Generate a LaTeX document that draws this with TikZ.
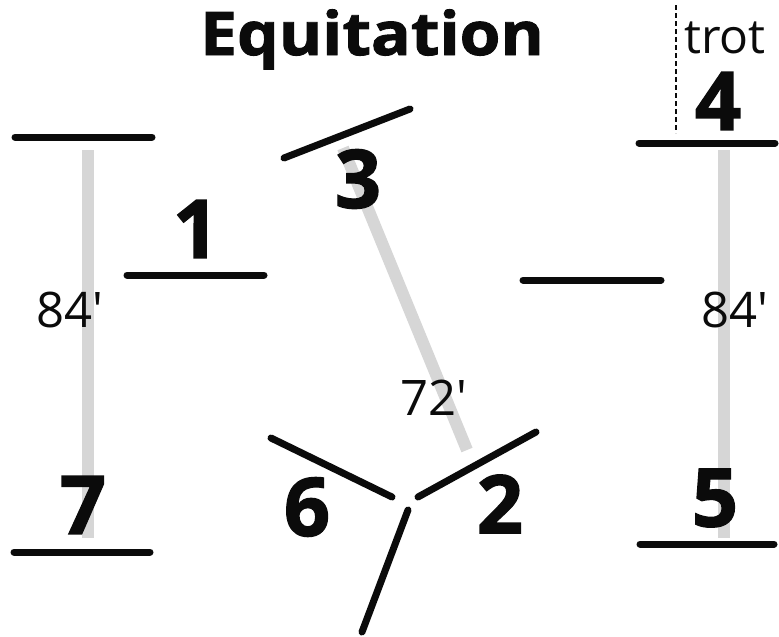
\documentclass[tikz,border=0pt]{standalone}
\usepackage{fontspec}
\setmainfont{Open Sans}
\newfontfamily\heavyfont{Open Sans}[BoldFeatures={FakeBold=1.6}]
\usetikzlibrary{positioning}
\definecolor{ink}{HTML}{0B0B0B}
\definecolor{track}{HTML}{D6D6D6}

\begin{document}
\begin{tikzpicture}[
  x=1pt,y=-1pt,
  bar/.style={draw=ink,line width=7pt,line cap=round},
  trk/.style={draw=track,line width=12pt},
  num/.style={font=\heavyfont\bfseries\fontsize{81}{81}\selectfont,
              inner sep=0pt,text=ink},
  dist/.style={font=\fontsize{49}{49}\selectfont,inner sep=0pt,text=ink},
]
\useasboundingbox (0,0) rectangle (779,637);

% ---------------------------------------------------------------- tracks
\coordinate (l1) at (88,150);  \coordinate (l2) at (88,538);
\coordinate (r1) at (724,150); \coordinate (r2) at (724,538);
\coordinate (m1) at (343,148); \coordinate (m2) at (467,450);
\foreach \i/\j in {l1/l2,r1/r2,m1/m2} \draw[trk] (\i) -- (\j);

% ---------------------------------------------------------------- labels
\node[font=\heavyfont\bfseries\fontsize{60}{60}\selectfont,anchor=base,
      inner sep=0pt,text=ink,xscale=1.1,transform shape] (title) at (372,55)
  {Equitation};

\node[num] (n1) at (196,229) {1};
\node[num] (n2) at (500,504) {2};
\node[num] (n3) at (358,179) {3};
\node[num] (n4) at (718,101) {4};
\node[num] (n5) at (715,498) {5};
\node[num] (n6) at (307,507) {6};
\node[num] (n7) at (83,505)  {7};

\node[dist] (dl) at (70,310)  {84\textquotesingle};
\node[dist] (dr) at (735,310) {84\textquotesingle};
\node[dist] (dm) at (434,398) {72\textquotesingle};

% trot marker
\coordinate (t1) at (676,5); \coordinate (t2) at (676,133);
\draw[ink,line width=1.8pt,dash pattern=on 5pt off 3pt] (t1) -- (t2);
\node[font=\fontsize{48}{48}\selectfont,anchor=base west,inner sep=0pt,
      text=ink] (trot) at (684,53) {trot};

% ---------------------------------------------------------------- jumps
\foreach \xa/\ya/\xb/\yb in {15/137/152/137, 127/275/264/275, 284/158/410/109,
                             523/280/661/280, 639/143/775/143, 14/552/150/552,
                             640/544/774/544, 271/438/392/497, 418/497/536/432,
                             408/510/362/632}
  \draw[bar] (\xa,\ya) -- (\xb,\yb);

\end{tikzpicture}
\end{document}
